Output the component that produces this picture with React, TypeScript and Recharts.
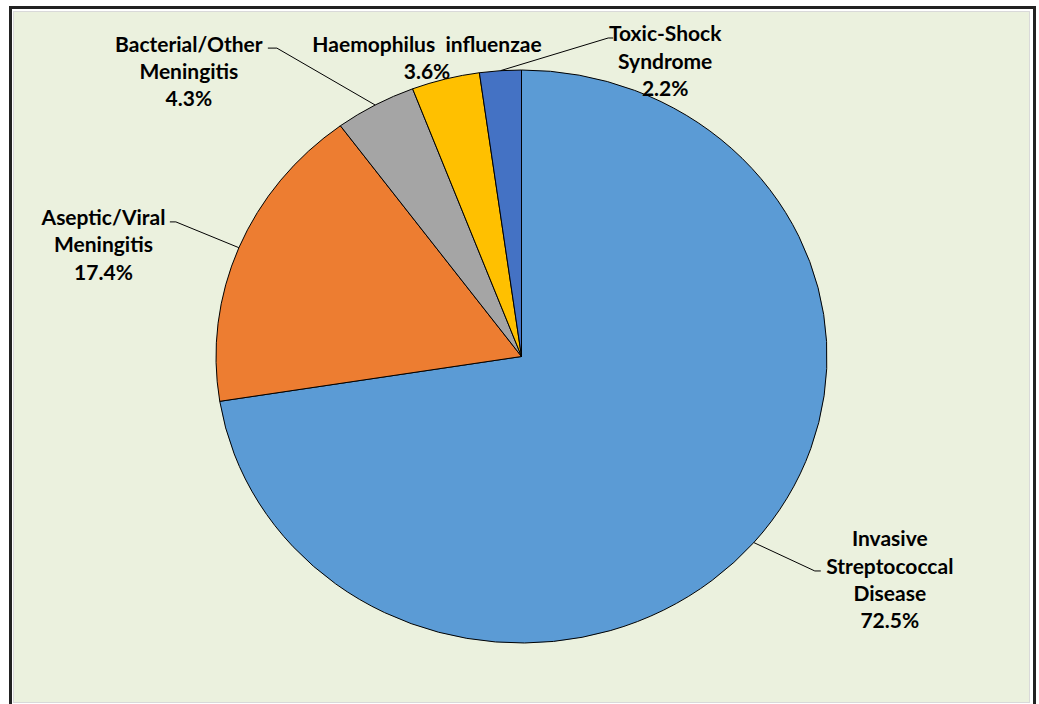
import React from "react";
import { PieChart, Pie, Cell } from "recharts";

const categories = [
  "Invasive Streptococcal Disease",
  "Aseptic/Viral Meningitis",
  "Bacterial/Other Meningitis",
  "Haemophilus  influenzae",
  "Toxic-Shock Syndrome",
];
const categoryLines = [
  ["Invasive", "Streptococcal", "Disease"],
  ["Aseptic/Viral", "Meningitis"],
  ["Bacterial/Other", "Meningitis"],
  ["Haemophilus  influenzae"],
  ["Toxic-Shock", "Syndrome"],
];
const values = [72.5, 17.4, 4.3, 3.6, 2.2];
const colors = ["#5B9BD5", "#ED7D31", "#A5A5A5", "#FFC000", "#4472C4"];

const data = categories.map((name, i) => ({ name, value: values[i] }));

// layout / style
const W = 1039;
const H = 704;
const CX = 521.5;
const CY = 356.5;
const R = 305.5;
const SY = 0.9378;
const LINE_H = 27.3;
const FONT = "Lato, 'Open Sans', sans-serif";

// label placement relative to the slice's mid-angle anchor point
const labelLayout = [
  { elbow: [61, 28.4], tick: 6, text: [136, -4.6] },
  { elbow: [-63, -25.8], tick: -6, text: [-135.4, -31.1] },
  { elbow: [-98.3, -56.9], tick: -9, text: [-186.3, -61.9] },
  { elbow: null, tick: 0, text: [-18.5, -36] },
  { elbow: [107.8, -32.7], tick: 5, text: [164.8, -37.7] },
];

const RAD = Math.PI / 180;

const renderLabel = (props: any) => {
  const { cx, cy, midAngle, outerRadius, index, percent } = props;
  const ax = cx + outerRadius * Math.cos(midAngle * RAD);
  const ay = cy - outerRadius * SY * Math.sin(midAngle * RAD);
  const lay = labelLayout[index];
  const lines = [...categoryLines[index], `${(percent * 100).toFixed(1)}%`];
  const tx = ax + lay.text[0];
  const ty = ay + lay.text[1];
  let path = null;
  if (lay.elbow) {
    const ex = ax + lay.elbow[0];
    const ey = ay + lay.elbow[1];
    path = (
      <path
        d={`M${ax},${ay}L${ex},${ey}L${ex + lay.tick},${ey}`}
        stroke="#000"
        strokeWidth={1}
        fill="none"
      />
    );
  }
  return (
    <g key={`lbl-${index}`}>
      {path}
      {lines.map((ln, k) => (
        <text
          key={k}
          x={tx}
          y={ty + k * LINE_H}
          textAnchor="middle"
          dominantBaseline="central"
          fontFamily={FONT}
          fontWeight={700}
          fontSize={21}
          fill="#000"
          style={{ whiteSpace: "pre" }}
        >
          {ln}
        </text>
      ))}
    </g>
  );
};

const css = `
path.recharts-sector { transform-origin: ${CX}px ${CY}px; transform: scaleY(${SY}); vector-effect: non-scaling-stroke; }
`;

export default function App() {
  return (
    <div
      style={{
        position: "absolute",
        left: 0,
        top: 0,
        width: W,
        height: H,
        background: "#fff",
        overflow: "hidden",
      }}
    >
      <style>{css}</style>
      <div
        style={{
          position: "absolute",
          left: 9,
          top: 6,
          width: 1027,
          height: 720,
          border: "3px solid #222",
          boxSizing: "border-box",
        }}
      />
      <div
        style={{
          position: "absolute",
          left: 13,
          top: 11,
          width: 1017,
          height: 692,
          border: "1px solid #D9D9D9",
          background: "#EBF1DE",
          boxSizing: "border-box",
        }}
      />
      <div style={{ position: "absolute", left: 0, top: 0 }}>
        <PieChart width={W} height={H} margin={{ top: 0, right: 0, bottom: 0, left: 0 }}>
          <Pie
            data={data}
            dataKey="value"
            nameKey="name"
            cx={CX}
            cy={CY}
            outerRadius={R}
            startAngle={90}
            endAngle={-270}
            stroke="#000"
            strokeWidth={1}
            label={renderLabel}
            labelLine={false}
            isAnimationActive={false}
          >
            {data.map((d, i) => (
              <Cell key={d.name} fill={colors[i]} stroke="#000" strokeWidth={1} />
            ))}
          </Pie>
        </PieChart>
      </div>
    </div>
  );
}
